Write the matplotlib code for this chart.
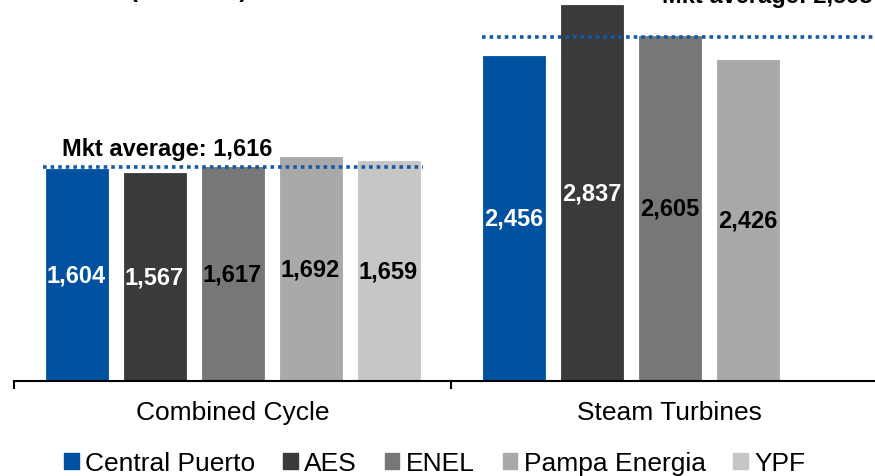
import numpy as np
import matplotlib.pyplot as plt
from matplotlib.patches import Patch

plt.rcParams['font.family'] = ['Liberation Sans', 'DejaVu Sans']

# Data (kcal/kWh)
categories = ['Combined Cycle', 'Steam Turbines']
companies = ['Central Puerto', 'AES', 'ENEL', 'Pampa Energia', 'YPF']
central_puerto = [1604, 2456]
aes = [1567, 2837]
enel = [1617, 2605]
pampa_energia = [1692, 2426]
ypf = [1659, np.nan]          # no steam turbines
mkt_average = [1616, 2598]

series = [central_puerto, aes, enel, pampa_energia, ypf]
colors = ['#0052A0', '#3A3A3A', '#777777', '#A9A9A9', '#C6C6C6']
label_colors = ['white', 'white', 'black', 'black', 'black']

fig = plt.figure(figsize=(8.75, 4.77), dpi=100)
ax = fig.add_axes([14 / 875, 95 / 477, 874 / 875, 382 / 477])

x = np.arange(len(categories))
slot = 78 / 437
width = 62 / 437

for i, vals in enumerate(series):
    xs = x + (i - 2) * slot
    ax.bar(xs, vals, width, color=colors[i], edgecolor=colors[i], linewidth=0.6)
    for xi, v in zip(xs, vals):
        if np.isnan(v):
            continue
        ax.text(xi, v / 2, f'{v:,.0f}', ha='center', va='center',
                fontsize=17, fontweight='bold', color=label_colors[i])

# market average lines
ax.hlines(mkt_average[0], x[0] - 0.434, x[0] + 0.437, colors='#1558A6',
          linewidth=2.6, linestyles=(0, (1, 1.1)))
ax.hlines(mkt_average[1], x[1] - 0.428, x[1] + 0.47, colors='#1558A6',
          linewidth=2.6, linestyles=(0, (1, 1.1)))

ax.annotate(f'Mkt average: {mkt_average[0]:,}', xy=(x[0] - 0.434, mkt_average[0]),
            xytext=(14, 8.5), textcoords='offset points', ha='left', va='baseline',
            fontsize=17, fontweight='bold')
ax.annotate(f'Mkt average: {mkt_average[1]:,}', xy=(x[1] + 0.47, mkt_average[1]),
            xytext=(-2, 25), textcoords='offset points', ha='right', va='baseline',
            fontsize=17, fontweight='bold')

# title sits mostly above the crop
fig.text(130 / 875, 1 + 3 / 477, '(kcal/kWh)', ha='left', va='baseline',
         fontsize=17, fontweight='bold')

for xi, cat in zip(x, categories):
    ax.text(xi, -0.081, cat, transform=ax.get_xaxis_transform(),
            ha='center', va='center', fontsize=19)

ax.set_xlim(-0.5, 1.5)
ax.set_ylim(0, 382 * 7.55)
ax.set_xticks([-0.5, 0.5, 1.5])
ax.set_xticklabels([])
ax.set_yticks([])
ax.tick_params(axis='x', direction='out', length=6, width=1.5)
for s in ['left', 'right', 'top']:
    ax.spines[s].set_visible(False)
ax.spines['bottom'].set_linewidth(1.5)

handles = [Patch(color=c) for c in colors]
fig.legend(handles, companies, loc='center', bbox_to_anchor=(0.497, 0.0273),
           ncol=5, frameon=False, fontsize=19, handlelength=0.55, handleheight=0.55,
           handletextpad=0.25, columnspacing=1.05, borderaxespad=0, borderpad=0)

fig.savefig('out.png', dpi=100)
